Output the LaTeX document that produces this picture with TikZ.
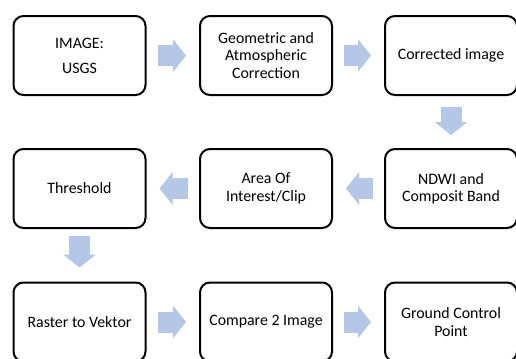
\documentclass[tikz,border=0pt]{standalone}
\usepackage{fontspec}
\setmainfont{Carlito}
\usetikzlibrary{arrows.meta}
\definecolor{flowblue}{HTML}{B4C7E7}
\newcommand{\boxfont}{\fontsize{11.9}{13.1}\selectfont}

\begin{document}
\begin{tikzpicture}[x=0.75pt,y=-0.75pt]
    \tikzstyle{every node}=[draw,rounded corners=7.5pt,line width=1.5pt,minimum width=99pt,minimum height=59.25pt,align=center,font=\boxfont];
    \tikzstyle{flow}=[draw=flowblue,line width=15.75pt,-{Triangle[length=9.75pt,width=24pt]},shorten <=8.25pt,shorten >=9.75pt];
    \useasboundingbox (0,0) rectangle (516,358);

    \node at (79.5, 55.5)  (usgs) {IMAGE:\\[5.6pt]USGS};
    \node at (266, 55.5)   (geo)  {Geometric and\\Atmospheric\\Correction};
    \node at (451, 55.5)   (corr) {Corrected image};

    \node at (451, 188.5)  (ndwi) {NDWI and\\Composit Band};
    \node at (266, 188.5)  (aoi)  {Area Of\\Interest/Clip};
    \node at (79.5, 188.5) (thr)  {Threshold};

    \node at (79.5, 322)   (vek)  {Raster to Vektor};
    \node at (266, 322)    (cmp)  {Compare 2 Image};
    \node at (451, 322)    (gcp)  {Ground Control\\Point};

    \draw[flow] (usgs) to (geo);
    \draw[flow] (geo) to (corr);
    \draw[flow] (corr) to (ndwi);
    \draw[flow] (ndwi) to (aoi);
    \draw[flow] (aoi) to (thr);
    \draw[flow,shorten <=5.25pt,shorten >=10.5pt] (thr) to (vek);
    \draw[flow] (vek) to (cmp);
    \draw[flow] (cmp) to (gcp);
\end{tikzpicture}
\end{document}
